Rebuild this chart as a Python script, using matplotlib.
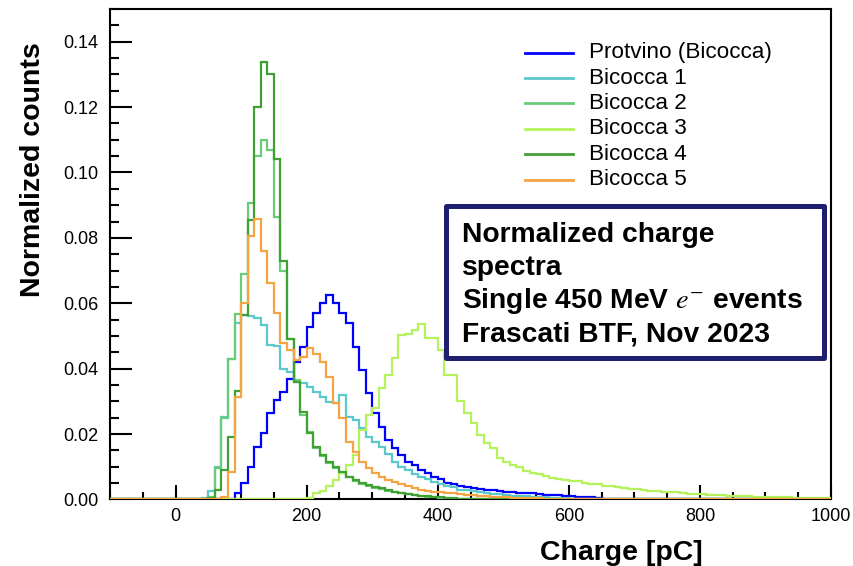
import numpy as np
import matplotlib
matplotlib.use("Agg")
import matplotlib.pyplot as plt
from matplotlib.patches import Rectangle
from matplotlib.ticker import MultipleLocator, FormatStrFormatter

plt.rcParams['font.family'] = ['Liberation Sans', 'DejaVu Sans']
plt.rcParams['mathtext.fontset'] = 'stix'

# histogram binning: 10 pC bins over the full axis range
BIN_LO, BIN_HI, BIN_W = -100, 1000, 10
edges = np.arange(BIN_LO, BIN_HI + BIN_W, BIN_W)

# normalized counts per bin, each list starts at the given charge [pC]
protvino_start = 80
protvino = [0.0003, 0.0019, 0.0049, 0.0100, 0.0161, 0.0202, 0.0263, 0.0304, 0.0330, 0.0370,
            0.0421, 0.0465, 0.0529, 0.0570, 0.0600, 0.0625, 0.0600, 0.0570, 0.0539, 0.0467,
            0.0396, 0.0325, 0.0263, 0.0222, 0.0182, 0.0156, 0.0136, 0.0116, 0.0105, 0.0090,
            0.0080, 0.0070, 0.0062, 0.0051, 0.0047, 0.0042, 0.0039, 0.0034, 0.0031, 0.0030,
            0.0029, 0.0027, 0.0024, 0.0022, 0.0021, 0.0020, 0.0019, 0.0016, 0.0015, 0.0014,
            0.0013, 0.0012, 0.0010, 0.0009, 0.0008, 0.0007, 0.0006]

bicocca1_start = 40
bicocca1 = [0.0004, 0.0027, 0.0098, 0.0251, 0.0429, 0.0540, 0.0564, 0.0560, 0.0554, 0.0534,
            0.0472, 0.0469, 0.0400, 0.0390, 0.0360, 0.0357, 0.0345, 0.0328, 0.0314, 0.0299,
            0.0296, 0.0320, 0.0253, 0.0243, 0.0218, 0.0192, 0.0176, 0.0161, 0.0140, 0.0116,
            0.0100, 0.0090, 0.0078, 0.0070, 0.0062, 0.0054, 0.0047, 0.0040, 0.0037, 0.0030,
            0.0029, 0.0025, 0.0022, 0.0020, 0.0018, 0.0016, 0.0014, 0.0012, 0.0011, 0.0010,
            0.0009, 0.0008, 0.0007, 0.0006, 0.0005, 0.0004, 0.0003]

bicocca2_start = 50
bicocca2 = [0.0008, 0.0095, 0.0250, 0.0430, 0.0566, 0.0690, 0.0906, 0.1050, 0.1100, 0.1070,
            0.0865, 0.0699, 0.0490, 0.0365, 0.0258, 0.0205, 0.0158, 0.0132, 0.0113, 0.0095,
            0.0082, 0.0068, 0.0056, 0.0048, 0.0042, 0.0036, 0.0031, 0.0027, 0.0022, 0.0019,
            0.0016, 0.0013, 0.0011, 0.0009, 0.0007, 0.0006, 0.0004, 0.0003, 0.0002]

bicocca3_start = 200
bicocca3 = [0.0005, 0.0020, 0.0027, 0.0040, 0.0060, 0.0080, 0.0105, 0.0136, 0.0213, 0.0258,
            0.0279, 0.0340, 0.0381, 0.0434, 0.0503, 0.0505, 0.0518, 0.0537, 0.0493, 0.0493,
            0.0457, 0.0381, 0.0381, 0.0300, 0.0263, 0.0233, 0.0197, 0.0172, 0.0157, 0.0128,
            0.0116, 0.0106, 0.0100, 0.0088, 0.0082, 0.0077, 0.0072, 0.0067, 0.0062, 0.0059,
            0.0057, 0.0056, 0.0050, 0.0047, 0.0046, 0.0042, 0.0041, 0.0038, 0.0034, 0.0033,
            0.0032, 0.0029, 0.0027, 0.0026, 0.0024, 0.0023, 0.0022, 0.0021, 0.0018, 0.0017,
            0.0016, 0.0015, 0.0014, 0.0013, 0.0012, 0.0011, 0.0010, 0.0010, 0.0009, 0.0009,
            0.0008, 0.0008, 0.0007, 0.0007, 0.0006, 0.0006, 0.0005, 0.0005, 0.0004, 0.0004]

bicocca4_start = 50
bicocca4 = [0.0005, 0.0030, 0.0090, 0.0190, 0.0333, 0.0564, 0.0855, 0.1200, 0.1339, 0.1300,
            0.1040, 0.0730, 0.0490, 0.0360, 0.0268, 0.0202, 0.0161, 0.0136, 0.0116, 0.0100,
            0.0085, 0.0070, 0.0059, 0.0051, 0.0044, 0.0039, 0.0034, 0.0029, 0.0024, 0.0020,
            0.0017, 0.0014, 0.0012, 0.0010, 0.0008, 0.0007, 0.0005, 0.0004, 0.0003, 0.0002,
            0.0001]

bicocca5_start = 60
bicocca5 = [0.0003, 0.0008, 0.0085, 0.0314, 0.0600, 0.0807, 0.0858, 0.0760, 0.0661, 0.0569,
            0.0480, 0.0457, 0.0427, 0.0437, 0.0462, 0.0445, 0.0421, 0.0375, 0.0294, 0.0248,
            0.0177, 0.0146, 0.0116, 0.0095, 0.0082, 0.0070, 0.0059, 0.0054, 0.0047, 0.0040,
            0.0036, 0.0030, 0.0027, 0.0024, 0.0024, 0.0019, 0.0019, 0.0017, 0.0015, 0.0013,
            0.0012, 0.0010, 0.0009, 0.0008, 0.0007, 0.0006, 0.0006, 0.0005, 0.0004, 0.0004,
            0.0003, 0.0003, 0.0002]

labels = ['Protvino (Bicocca)', 'Bicocca 1', 'Bicocca 2', 'Bicocca 3', 'Bicocca 4', 'Bicocca 5']
colors = ['#0000FF', '#5BC8CC', '#6ACB78', '#B4F35C', '#41A034', '#F5A443']
series = [(protvino_start, protvino), (bicocca1_start, bicocca1), (bicocca2_start, bicocca2),
          (bicocca3_start, bicocca3), (bicocca4_start, bicocca4), (bicocca5_start, bicocca5)]

info_lines = ['Normalized charge', 'spectra', r'Single 450 MeV $e^{-}$ events',
              'Frascati BTF, Nov 2023']


def full_hist(start, vals):
    # place the listed bins into the full -100..1000 range, empty elsewhere
    h = np.zeros(len(edges) - 1)
    i0 = (start - BIN_LO) // BIN_W
    h[i0:i0 + len(vals)] = vals
    return h


fig = plt.figure(figsize=(8.54, 5.66), dpi=100)
ax = fig.add_axes([0.1288, 0.1175, 0.8443, 0.8666])

for (start, vals), col, lab in zip(series, colors, labels):
    ax.stairs(full_hist(start, vals), edges, color=col, lw=1.6, label=lab, zorder=3)

ax.set_xlim(BIN_LO, BIN_HI)
ax.set_ylim(0, 0.15)

for sp in ax.spines.values():
    sp.set_linewidth(1.5)

ax.xaxis.set_major_locator(MultipleLocator(200))
ax.xaxis.set_minor_locator(MultipleLocator(50))
ax.yaxis.set_major_locator(MultipleLocator(0.02))
ax.yaxis.set_minor_locator(MultipleLocator(0.005))
ax.yaxis.set_major_formatter(FormatStrFormatter('%.2f'))
ax.tick_params(which='both', direction='in', top=False, right=False, width=1.5,
               labelsize=13)
ax.tick_params(axis='y', which='major', length=15.5, pad=8.6)
ax.tick_params(axis='y', which='minor', length=6.7)
ax.tick_params(axis='x', which='major', length=10, pad=6)
ax.tick_params(axis='x', which='minor', length=5)

# axis titles, ROOT style: bold and pushed towards the axis ends
fig.text(703 / 854, 1 - 560 / 566, 'Charge [pC]', ha='right', va='baseline',
         fontsize=20.5, fontweight='bold')
fig.text(33 / 854, 1 - 170 / 566, 'Normalized counts', ha='center', va='center',
         rotation=90, fontsize=20.5, fontweight='bold')

# legend drawn by hand: short line followed by the label
ax_w, ax_h = 721.0, 490.5
lx0, lx1, ltx = (525 - 110) / ax_w, (573 - 110) / ax_w, (589 - 110) / ax_w
ly0, ldy = (499.5 - 52.7) / ax_h, 25.4 / ax_h
for i, (lab, col) in enumerate(zip(labels, colors)):
    y = ly0 - i * ldy
    ax.plot([lx0, lx1], [y, y], color=col, lw=2, transform=ax.transAxes, clip_on=False)
    ax.text(ltx, y, lab, transform=ax.transAxes, fontsize=16.2, va='center', ha='left')

# info box
box = Rectangle(((445.5 - 110) / ax_w, (499.5 - 358.5) / ax_h),
                (823.5 - 445.5) / ax_w, (358.5 - 206.5) / ax_h,
                transform=ax.transAxes, fill=True, facecolor='white',
                edgecolor='#1F1F70', lw=3.6, joinstyle='round', zorder=4)
ax.add_patch(box)
for i, line in enumerate(info_lines):
    yb = (499.5 - (241.7 + 33.3 * i)) / ax_h
    ax.text((461.7 - 110) / ax_w, yb, line, transform=ax.transAxes, fontsize=20.3,
            fontweight='bold', va='baseline', ha='left', zorder=5)

fig.savefig('out.png', dpi=100)
